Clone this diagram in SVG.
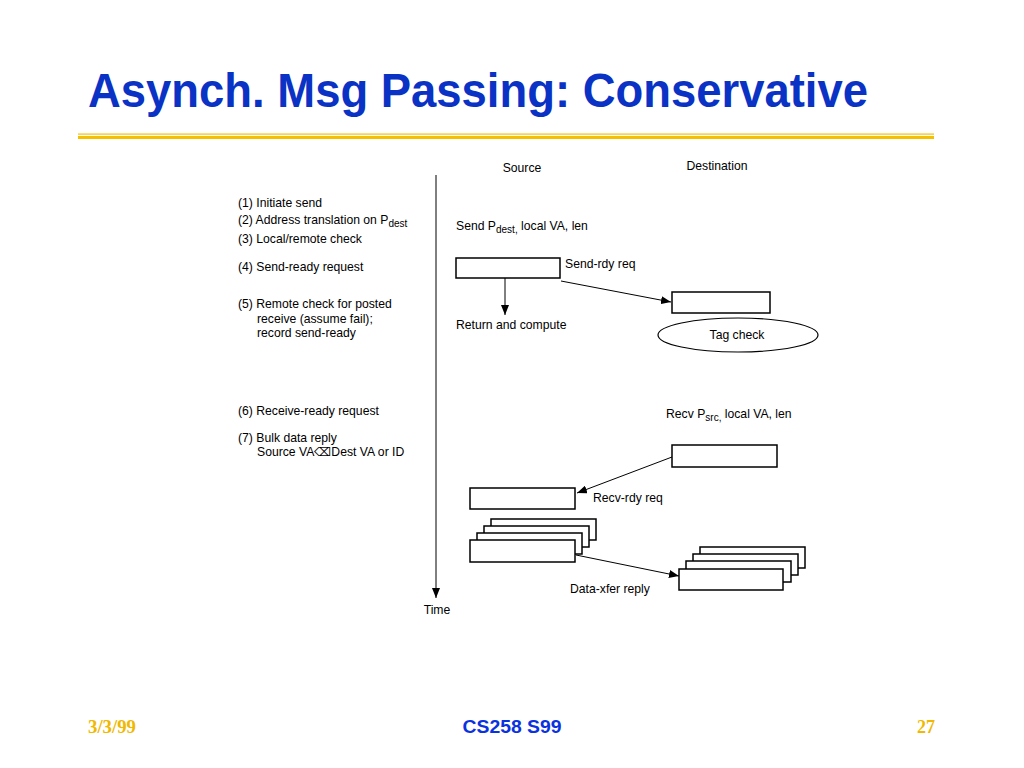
<svg xmlns="http://www.w3.org/2000/svg" width="1024" height="768" viewBox="0 0 1024 768">
<style>
.t{font-family:"Liberation Sans",Arial,sans-serif;font-size:12.2px;fill:#000}
.box{fill:#fff;stroke:#000;stroke-width:1.5}
.ln{stroke:#000;stroke-width:1;fill:none}
.sub{font-size:10px}
</style>
<defs>
<marker id="ah" viewBox="0 0 10 8" refX="10" refY="4" markerWidth="10" markerHeight="8" markerUnits="userSpaceOnUse" orient="auto">
<path d="M0,0L10,4L0,8Z" fill="#000"/>
</marker>
</defs>
<rect width="1024" height="768" fill="#fff"/>
<g id="title">
<text x="88" y="107" font-family="Liberation Sans,Arial,sans-serif" font-weight="bold" font-size="49" fill="#0a32c4" textLength="780" lengthAdjust="spacingAndGlyphs">Asynch. Msg Passing: Conservative</text>
<rect x="78" y="133.5" width="856" height="1.2" fill="#f5c000"/>
<rect x="78" y="136" width="856" height="3" fill="#f5c000"/>
</g>
<g id="footer">
<text x="88" y="733" font-family="Liberation Serif,serif" font-weight="bold" font-size="18" fill="#f0b800" textLength="48" lengthAdjust="spacingAndGlyphs">3/3/99</text>
<text x="512" y="733" text-anchor="middle" font-family="Liberation Sans,Arial,sans-serif" font-weight="bold" font-size="18" fill="#0a32e0" textLength="99" lengthAdjust="spacingAndGlyphs">CS258 S99</text>
<text x="935" y="733" text-anchor="end" font-family="Liberation Serif,serif" font-weight="bold" font-size="18" fill="#f0b800">27</text>
</g>
<g id="steps">
<text class="t" x="238" y="207">(1) Initiate send</text>
<text class="t" x="238" y="224">(2) Address translation on P<tspan class="sub" dy="3">dest</tspan></text>
<text class="t" x="238" y="243">(3) Local/remote check</text>
<text class="t" x="238" y="271">(4) Send-ready request</text>
<text class="t" x="238" y="308">(5) Remote check for posted</text>
<text class="t" x="257" y="323">receive (assume fail);</text>
<text class="t" x="257" y="337">record send-ready</text>
<text class="t" x="238" y="415">(6) Receive-ready request</text>
<text class="t" x="238" y="442">(7) Bulk data reply</text>
<text class="t" x="257" y="456">Source VA⌫Dest VA or ID</text>
</g>
<g id="timeline">
<line class="ln" x1="436" y1="175" x2="436" y2="598" marker-end="url(#ah)"/>
<text class="t" x="437" y="614" text-anchor="middle">Time</text>
</g>
<g id="headers">
<text class="t" x="522" y="172" text-anchor="middle">Source</text>
<text class="t" x="717" y="170" text-anchor="middle">Destination</text>
</g>
<g id="send-label"><text class="t" x="456" y="230">Send P<tspan class="sub" dy="3">dest,</tspan><tspan dy="-3"> local VA, len</tspan></text></g>
<g id="send-box"><rect class="box" x="456" y="258" width="104" height="20"/></g>
<g id="dest-box1"><rect class="box" x="672" y="292" width="98" height="21"/></g>
<g id="tag-check">
<ellipse cx="738" cy="335" rx="80" ry="17" fill="#fff" stroke="#000" stroke-width="1.2"/>
<text class="t" x="737" y="339" text-anchor="middle">Tag check</text>
</g>
<g id="return-label"><text class="t" x="456" y="329">Return and compute</text></g>
<g id="recv-label"><text class="t" x="666" y="418">Recv P<tspan class="sub" dy="3">src,</tspan><tspan dy="-3"> local VA, len</tspan></text></g>
<g id="dest-box2"><rect class="box" x="672" y="445" width="105" height="22"/></g>
<g id="src-box2"><rect class="box" x="470" y="488" width="105" height="21"/></g>
<g id="src-stack">
<rect class="box" x="491" y="519" width="105" height="21"/>
<rect class="box" x="484" y="526" width="105" height="21"/>
<rect class="box" x="477" y="533" width="105" height="21"/>
<rect class="box" x="470" y="540" width="105" height="22"/>
</g>
<g id="dest-stack">
<rect class="box" x="700" y="547" width="105" height="21"/>
<rect class="box" x="693" y="554" width="105" height="21"/>
<rect class="box" x="686" y="561" width="105" height="21"/>
<rect class="box" x="679" y="569" width="104" height="21"/>
</g>
<g id="connectors">
<line class="ln" x1="505" y1="278" x2="505" y2="315" marker-end="url(#ah)"/>
<line class="ln" x1="561" y1="281" x2="671" y2="302" marker-end="url(#ah)"/>
<line class="ln" x1="672" y1="457" x2="577" y2="493" marker-end="url(#ah)"/>
<line class="ln" x1="576" y1="555" x2="679" y2="576" marker-end="url(#ah)"/>
</g>
<g id="conn-labels">
<text class="t" x="565" y="268">Send-rdy req</text>
<text class="t" x="593" y="502">Recv-rdy req</text>
<text class="t" x="570" y="593">Data-xfer reply</text>
</g>
</svg>
